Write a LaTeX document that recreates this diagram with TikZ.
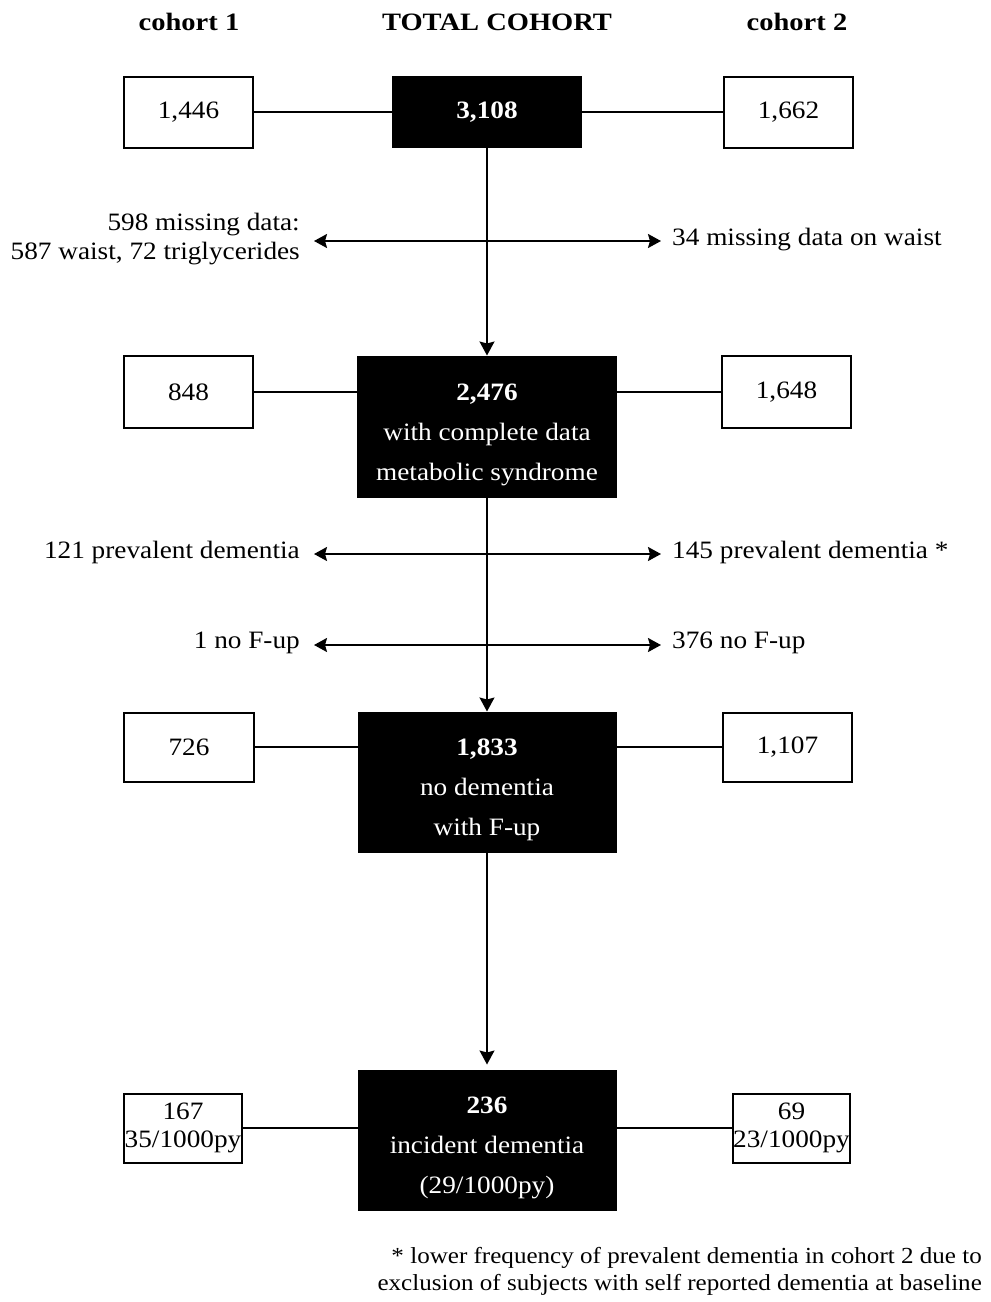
\documentclass[tikz,border=0pt]{standalone}
\usepackage{fontspec}
\setmainfont[FakeStretch=1.09]{Liberation Serif}
\newfontfamily\hdrfont[FakeStretch=1.14]{Liberation Serif}
\usetikzlibrary{arrows.meta}
\tikzset{
  x=1pt, y=-1pt,
  txt/.style={font=\fontsize{25}{29}\selectfont, inner sep=0pt},
  hdr/.style={font=\hdrfont\fontsize{25}{29}\selectfont\bfseries, inner sep=0pt},
  wbox/.style={draw, line width=2pt, fill=white, inner sep=0pt, font=\fontsize{25}{30}\selectfont, align=center},
  bbox/.style={draw, line width=1pt, fill=black, text=white, inner sep=0pt, font=\fontsize{25}{40}\selectfont, align=center},
  link/.style={line width=2pt},
  flow/.style={line width=1.5pt, -{Stealth[width=15pt,length=14pt,inset=2pt]}},
  excl/.style={line width=2pt, {Stealth[width=14pt,length=13pt,inset=2pt]}-{Stealth[width=14pt,length=13pt,inset=2pt]}},
}
\newcommand{\toprule}{\rule{0pt}{33pt}}
\begin{document}
\begin{tikzpicture}
\useasboundingbox (0,0) rectangle (991,1302);
% headers
\node[hdr] (h1) at (189,22) {cohort 1};
\node[hdr] (h0) at (497,22) {TOTAL COHORT};
\node[hdr] (h2) at (797,22) {cohort 2};
% row 1
\node[wbox, minimum width=129pt, minimum height=71pt] (a1) at (188.5,112) {1,446};
\node[bbox, minimum width=189pt, minimum height=71pt] (a0) at (487,112) {\textbf{3,108}};
\node[wbox, minimum width=129pt, minimum height=71pt] (a2) at (788.5,112) {1,662};
% row 2
\node[wbox, minimum width=129pt, minimum height=72pt] (b1) at (188.5,392) {848};
\node[bbox, minimum width=259pt, minimum height=141pt] (b0) at (487,426.5) {\toprule\textbf{2,476}\\with complete data\\metabolic syndrome};
\node[wbox, minimum width=129pt, minimum height=72pt] (b2) at (786.5,392) {1,648};
% row 3
\node[wbox, minimum width=130pt, minimum height=69pt] (c1) at (189,747) {726};
\node[bbox, minimum width=258pt, minimum height=140pt] (c0) at (487,782) {\toprule\textbf{1,833}\\no dementia\\with F-up};
\node[wbox, minimum width=129pt, minimum height=69pt] (c2) at (787.5,747) {1,107};
% row 4
\node[wbox, minimum width=118pt, minimum height=69pt] (d1) at (183,1128) {167\\[-2pt]35/1000py};
\node[bbox, minimum width=258pt, minimum height=140pt] (d0) at (487,1140) {\toprule\textbf{236}\\incident dementia\\(29/1000py)};
\node[wbox, minimum width=117pt, minimum height=69pt] (d2) at (791.5,1128) {69\\[-2pt]23/1000py};
% horizontal links
\draw[link] (a1.east) -- (a0.west);
\draw[link] (a0.east) -- (a2.west);
\draw[link] (b1.east) -- (b1.east -| b0.west);
\draw[link] (b2.west) -- (b2.west -| b0.east);
\draw[link] (c1.east) -- (c1.east -| c0.west);
\draw[link] (c2.west) -- (c2.west -| c0.east);
\draw[link] (d1.east) -- (d1.east -| d0.west);
\draw[link] (d2.west) -- (d2.west -| d0.east);
% vertical flow
\draw[flow] (a0.south) -- (b0.north);
\draw[flow] (b0.south) -- (c0.north);
\draw[flow, shorten >=5pt] (c0.south) -- (d0.north);
% exclusions
\coordinate (e1l) at (314,241);
\coordinate (e1r) at (661,241);
\coordinate (e2l) at (314,554);
\coordinate (e2r) at (661,554);
\coordinate (e3l) at (314,645);
\coordinate (e3r) at (661,645);
\draw[excl] (e1l) -- (e1r);
\draw[excl] (e2l) -- (e2r);
\draw[excl] (e3l) -- (e3r);
\node[txt, anchor=east, align=right] (x1l) at (300,239) {598 missing data:\\587 waist, 72 triglycerides};
\node[txt, anchor=west] (x1r) at (672,240) {34 missing data on waist};
\node[txt, anchor=east] (x2l) at (300,552) {121 prevalent dementia};
\node[txt, anchor=west] (x2r) at (672,552) {145 prevalent dementia *};
\node[txt, anchor=east] (x3l) at (300,643) {1 no F-up};
\node[txt, anchor=west] (x3r) at (672,643) {376 no F-up};
% footnote
\node[txt, anchor=east, align=right, font=\fontsize{23}{27}\selectfont] (fn) at (982,1271) {* lower frequency of prevalent dementia in cohort 2 due to\\exclusion of subjects with self reported dementia at baseline};
\end{tikzpicture}
\end{document}
